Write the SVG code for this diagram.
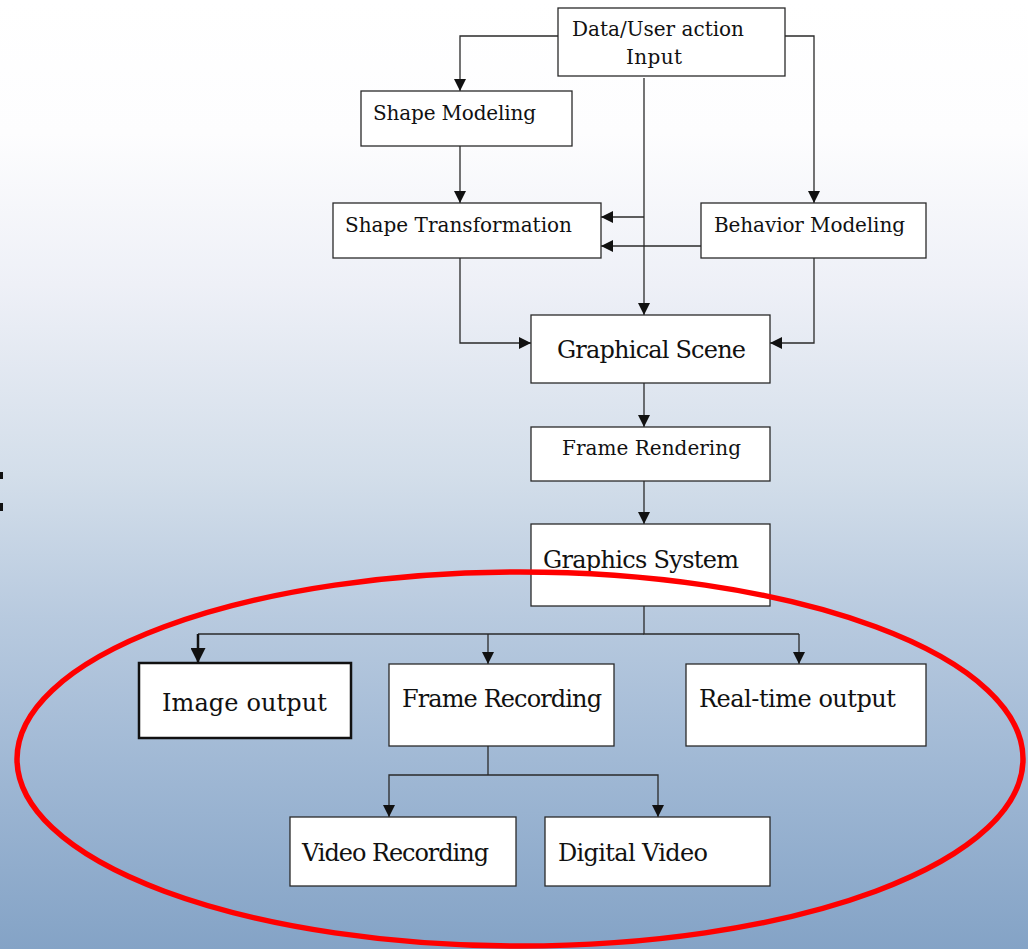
<svg xmlns="http://www.w3.org/2000/svg" width="1028" height="949" viewBox="0 0 1028 949">
  <defs>
    <linearGradient id="bg" x1="0" y1="0" x2="0" y2="1">
      <stop offset="0" stop-color="#ffffff"/>
      <stop offset="0.14" stop-color="#fdfdfe"/>
      <stop offset="0.3" stop-color="#eef0f7"/>
      <stop offset="0.5" stop-color="#d3deea"/>
      <stop offset="0.65" stop-color="#b8cadf"/>
      <stop offset="0.8" stop-color="#a1b9d5"/>
      <stop offset="1" stop-color="#84a3c6"/>
    </linearGradient>
    <marker id="arr" viewBox="0 0 10 10" refX="10" refY="5" markerWidth="12" markerHeight="12" markerUnits="userSpaceOnUse" orient="auto">
      <path d="M0,0 L10,5 L0,10 Z" fill="#111"/>
    </marker>
    <marker id="arrBig" viewBox="0 0 10 10" refX="10" refY="5" markerWidth="15" markerHeight="15" markerUnits="userSpaceOnUse" orient="auto">
      <path d="M0,0 L10,5 L0,10 Z" fill="#111"/>
    </marker>
  </defs>
  <style>
    .box { fill: #ffffff; stroke: #2a2a2a; stroke-width: 1.3; }
    .box.thick { stroke: #111; stroke-width: 2.5; }
    .lbl { font-family: "DejaVu Serif", "Liberation Serif", serif; fill: #111; }
    .s { font-size: 20px; }
    .l { font-size: 24px; }
    .wire { fill: none; stroke: #2a2a2a; stroke-width: 1.3; }
    .wire.a { marker-end: url(#arr); }
    .wire.big { stroke: #111; stroke-width: 2.5; marker-end: url(#arrBig); }
  </style>

  <rect x="0" y="0" width="1028" height="949" fill="url(#bg)"/>

  <!-- stray glyph fragment at the left edge -->
  <rect x="0" y="472" width="3" height="7" fill="#111"/>
  <rect x="0" y="503" width="3" height="8" fill="#111"/>

  <g id="connectors">
    <path class="wire a" d="M558,36 H460 V91"/>
    <path class="wire a" d="M785,36 H814 V203"/>
    <path class="wire a" d="M644,78 V315"/>
    <path class="wire a" d="M644,217 H601"/>
    <path class="wire a" d="M701,246 H601"/>
    <path class="wire a" d="M460,146 V203"/>
    <path class="wire a" d="M460,258 V343 H531"/>
    <path class="wire a" d="M814,258 V343 H770"/>
    <path class="wire a" d="M644,383 V427"/>
    <path class="wire a" d="M644,481 V524"/>
    <path class="wire" d="M644,606 V634 H799"/>
    <path class="wire" d="M644,634 H198"/>
    <path class="wire big" d="M198,634 V663"/>
    <path class="wire a" d="M488,634 V664"/>
    <path class="wire a" d="M799,634 V664"/>
    <path class="wire" d="M488,746 V775"/>
    <path class="wire a" d="M488,775 H389 V817"/>
    <path class="wire a" d="M488,775 H658 V817"/>
  </g>

  <g id="input">
    <rect class="box" x="558" y="8" width="227" height="68"/>
    <text class="lbl s" x="572" y="36" textLength="172">Data/User action</text>
    <text class="lbl s" x="626" y="64" textLength="56">Input</text>
  </g>
  <g id="shape-modeling">
    <rect class="box" x="361" y="91" width="211" height="55"/>
    <text class="lbl s" x="373" y="120" textLength="163">Shape Modeling</text>
  </g>
  <g id="shape-transformation">
    <rect class="box" x="333" y="203" width="268" height="55"/>
    <text class="lbl s" x="345" y="232" textLength="227">Shape Transformation</text>
  </g>
  <g id="behavior-modeling">
    <rect class="box" x="701" y="203" width="225" height="55"/>
    <text class="lbl s" x="714" y="232" textLength="191">Behavior Modeling</text>
  </g>
  <g id="graphical-scene">
    <rect class="box" x="531" y="315" width="239" height="68"/>
    <text class="lbl l" x="557" y="358" textLength="189">Graphical Scene</text>
  </g>
  <g id="frame-rendering">
    <rect class="box" x="531" y="427" width="239" height="54"/>
    <text class="lbl s" x="562" y="455" textLength="179">Frame Rendering</text>
  </g>
  <g id="graphics-system">
    <rect class="box" x="531" y="524" width="239" height="82"/>
    <text class="lbl l" x="543" y="568" textLength="196">Graphics System</text>
  </g>
  <g id="image-output">
    <rect class="box thick" x="139" y="663" width="212" height="75"/>
    <text class="lbl l" x="162" y="711" textLength="165">Image output</text>
  </g>
  <g id="frame-recording">
    <rect class="box" x="389" y="664" width="225" height="82"/>
    <text class="lbl l" x="402" y="707" textLength="200">Frame Recording</text>
  </g>
  <g id="real-time-output">
    <rect class="box" x="686" y="664" width="240" height="82"/>
    <text class="lbl l" x="699" y="707" textLength="197">Real-time output</text>
  </g>
  <g id="video-recording">
    <rect class="box" x="290" y="817" width="226" height="69"/>
    <text class="lbl l" x="302" y="861" textLength="187">Video Recording</text>
  </g>
  <g id="digital-video">
    <rect class="box" x="545" y="817" width="225" height="69"/>
    <text class="lbl l" x="558" y="861" textLength="150">Digital Video</text>
  </g>

  <!-- highlight ring around the output stage -->
  <ellipse cx="520" cy="759" rx="503" ry="187" fill="none" stroke="#ff0000" stroke-width="5.5"/>
</svg>
